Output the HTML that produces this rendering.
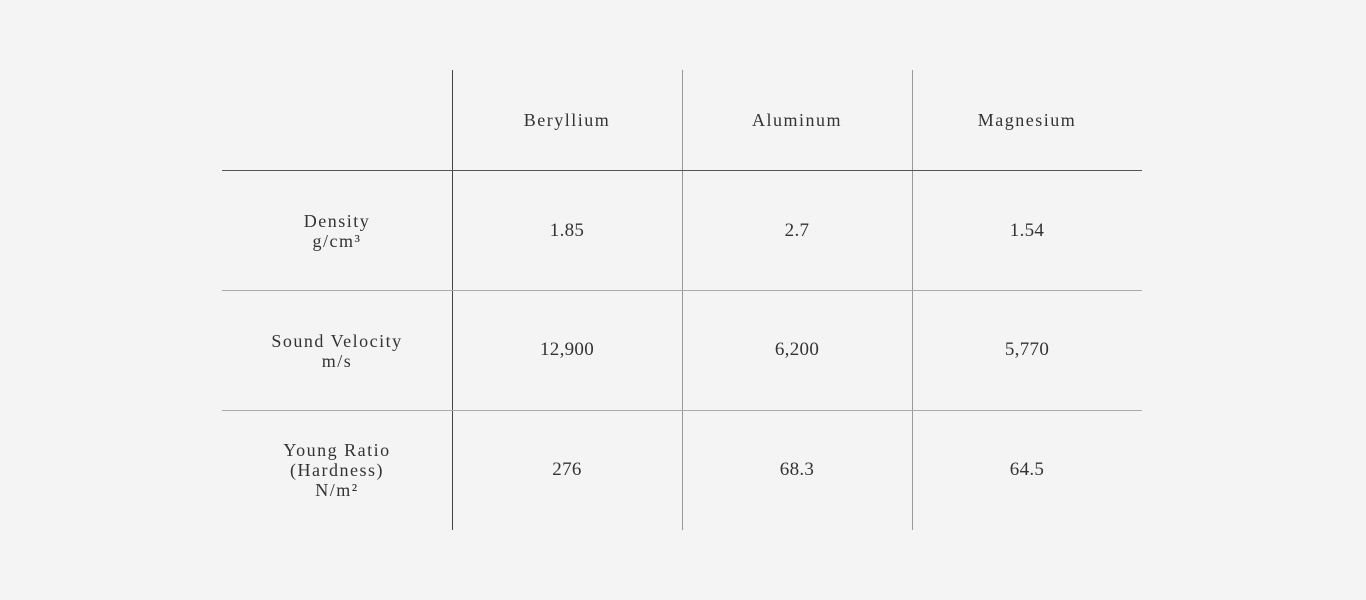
<!DOCTYPE html>
<html><head><meta charset="utf-8"><style>
html,body{margin:0;padding:0;background:#f4f4f4;width:1366px;height:600px;overflow:hidden}
body{position:relative;font-family:"Liberation Serif",serif;color:#333}
.l{position:absolute;background:#aaa}
.t{position:absolute;width:230px;text-align:center;font-size:18px;line-height:20px;letter-spacing:1.5px}
.n{letter-spacing:0.3px;font-size:19px}
</style></head><body>
<div class="l" style="left:452px;top:70px;width:1px;height:460px;background:#444"></div>
<div class="l" style="left:682px;top:70px;width:1px;height:460px;background:#999"></div>
<div class="l" style="left:912px;top:70px;width:1px;height:460px;background:#999"></div>
<div class="l" style="left:222px;top:170px;width:920px;height:1px;background:#555"></div>
<div class="l" style="left:222px;top:290px;width:920px;height:1px"></div>
<div class="l" style="left:222px;top:410px;width:920px;height:1px"></div>

<div class="t" style="left:452px;top:110px">Beryllium</div>
<div class="t" style="left:682px;top:110px">Aluminum</div>
<div class="t" style="left:912px;top:110px">Magnesium</div>

<div class="t" style="left:222px;top:211px">Density<br>g/cm³</div>
<div class="t n" style="left:452px;top:221px">1.85</div>
<div class="t n" style="left:682px;top:221px">2.7</div>
<div class="t n" style="left:912px;top:221px">1.54</div>

<div class="t" style="left:222px;top:331px">Sound Velocity<br>m/s</div>
<div class="t n" style="left:452px;top:340px">12,900</div>
<div class="t n" style="left:682px;top:340px">6,200</div>
<div class="t n" style="left:912px;top:340px">5,770</div>

<div class="t" style="left:222px;top:440px">Young Ratio<br>(Hardness)<br>N/m²</div>
<div class="t n" style="left:452px;top:460px">276</div>
<div class="t n" style="left:682px;top:460px">68.3</div>
<div class="t n" style="left:912px;top:460px">64.5</div>
</body></html>
